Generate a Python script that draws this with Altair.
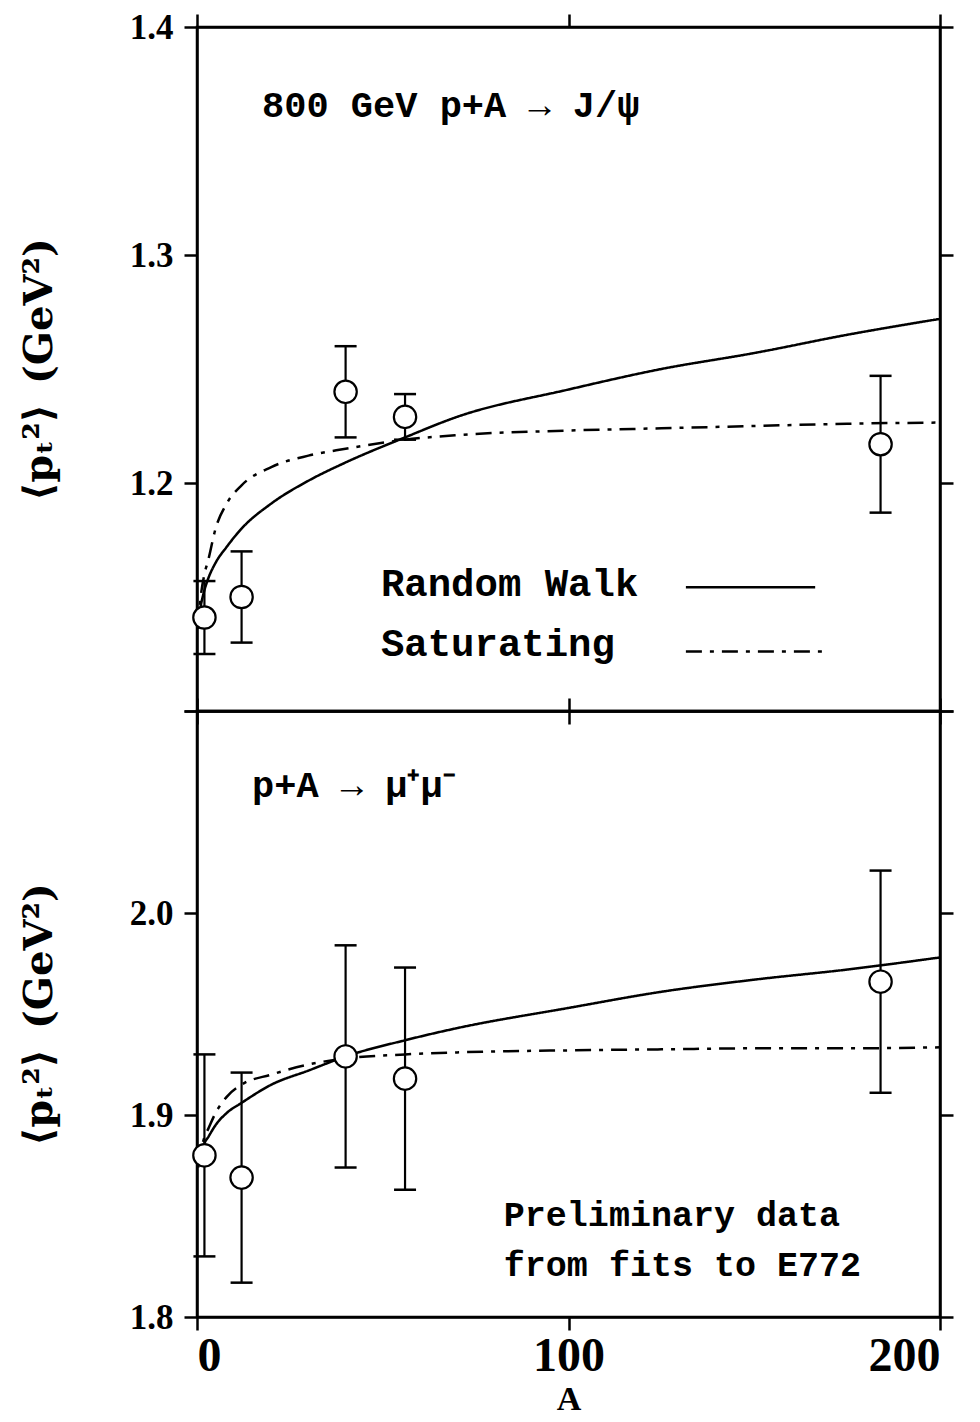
import altair as alt
import pandas as pd

# ---------------- data ----------------
A_pts = [2, 12, 40, 56, 184]
jpsi_pt2 = [1.141, 1.150, 1.240, 1.229, 1.217]
jpsi_err = [0.016, 0.020, 0.020, 0.010, 0.030]
dy_pt2 = [1.880, 1.869, 1.929, 1.918, 1.966]
dy_err = [0.050, 0.052, 0.055, 0.055, 0.055]

A_curve = [0.3, 0.5, 1, 2, 3, 5, 8, 12, 20, 30, 40, 56, 70, 100, 125, 150, 175, 200]
jpsi_rw = [1.138, 1.141, 1.146, 1.153, 1.158, 1.165, 1.172, 1.180, 1.191, 1.201,
           1.209, 1.220, 1.229, 1.241, 1.250, 1.257, 1.265, 1.272]
jpsi_sat = [1.136, 1.141, 1.150, 1.160, 1.166, 1.180, 1.191, 1.199, 1.207, 1.212,
            1.215, 1.219, 1.221, 1.223, 1.224, 1.225, 1.226, 1.2265]
dy_rw = [1.874, 1.876, 1.880, 1.886, 1.889, 1.895, 1.901, 1.906, 1.915, 1.922,
         1.929, 1.937, 1.943, 1.953, 1.961, 1.967, 1.972, 1.978]
dy_sat = [1.875, 1.878, 1.882, 1.889, 1.893, 1.901, 1.909, 1.915, 1.920, 1.925,
          1.928, 1.930, 1.931, 1.932, 1.9325, 1.933, 1.933, 1.9335]

x_ticks = [0, 100, 200]
jpsi_yticks = [1.1, 1.2, 1.3, 1.4]
dy_yticks = [1.8, 1.9, 2.0, 2.1]
models = ["Random Walk", "Saturating"]

# ---------------- layout / style ----------------
W = 743
H_TOP = 684
H_BOT = 606
SERIF = "Liberation Serif"
MONO = "Liberation Mono"
LW = 2.5
DASHDOT = [16, 8, 4, 8]
YTITLE = "\u27e8p\u209c\u00b2\u27e9\u2002(GeV\u00b2)"

xscale = alt.Scale(domain=[0, 200], nice=False, zero=False)


def panel(pt2, err, rw, sat, ydom, yticks, hidden, height, is_bottom, texts, legend):
    yscale = alt.Scale(domain=ydom, nice=False, zero=False)
    pts = pd.DataFrame({
        "A": A_pts,
        "v": pt2,
        "lo": [p - e for p, e in zip(pt2, err)],
        "hi": [p + e for p, e in zip(pt2, err)],
    })
    curves = pd.DataFrame({
        "A": A_curve + A_curve,
        "v": rw + sat,
        "model": [models[0]] * len(A_curve) + [models[1]] * len(A_curve),
    })
    label_expr = "abs(datum.value - %s) < 0.001 ? '' : format(datum.value, '.1f')" % hidden

    common = dict(grid=False, domainColor="black", domainWidth=LW, tickColor="black",
                  tickWidth=LW, tickSize=13, labelColor="black", labelFont=SERIF,
                  titleColor="black")
    if is_bottom:
        xax = alt.Axis(orient="bottom", values=x_ticks, labels=True, labelFontSize=48,
                       labelPadding=2, labelFontWeight="bold", title="A", titleFont=SERIF,
                       titleFontSize=34, titleFontWeight="bold", titlePadding=2, **common)
        xtitle = "A"
    else:
        xax = alt.Axis(orient="bottom", values=x_ticks, labels=False, **common)
        xtitle = None

    yax_left = alt.Axis(orient="left", values=yticks, labelExpr=label_expr,
                        labelFontSize=35, labelFontWeight="bold", labelPadding=11,
                        minExtent=124, maxExtent=124,
                        titlePadding=14, title=YTITLE, titleFont="DejaVu Serif",
                        titleFontSize=40, titleFontWeight="bold", **common)

    dash = alt.StrokeDash("model:N", scale=alt.Scale(domain=models, range=[[1, 0], DASHDOT]),
                          legend=None)

    line_layer = alt.Chart(curves).mark_line(color="black", strokeWidth=LW,
                                             interpolate="monotone").encode(
        x=alt.X("A:Q", scale=xscale, axis=xax, title=xtitle),
        y=alt.Y("v:Q", scale=yscale, axis=yax_left, title=YTITLE),
        strokeDash=dash,
        detail="model:N",
    )

    rules = alt.Chart(pts).mark_rule(color="black", strokeWidth=2.2).encode(
        x=alt.X("A:Q", scale=xscale,
                axis=alt.Axis(orient="top", values=x_ticks, labels=False, **common),
                title=None),
        y=alt.Y("lo:Q", scale=yscale,
                axis=alt.Axis(orient="right", values=yticks, labels=False, **common),
                title=None),
        y2="hi:Q",
    )
    cap_lo = alt.Chart(pts).mark_tick(orient="horizontal", color="black", size=22,
                                      thickness=2.5, opacity=1).encode(
        x=alt.X("A:Q", scale=xscale, axis=None),
        y=alt.Y("lo:Q", scale=yscale, axis=None),
    )
    cap_hi = alt.Chart(pts).mark_tick(orient="horizontal", color="black", size=22,
                                      thickness=2.5, opacity=1).encode(
        x=alt.X("A:Q", scale=xscale, axis=None),
        y=alt.Y("hi:Q", scale=yscale, axis=None),
    )
    circles = alt.Chart(pts).mark_point(shape="circle", filled=True, fill="white",
                                        stroke="black", strokeWidth=2.2, size=500,
                                        opacity=1).encode(
        x=alt.X("A:Q", scale=xscale, axis=None),
        y=alt.Y("v:Q", scale=yscale, axis=None),
    )
    tdf = pd.DataFrame(texts, columns=["A", "v", "label", "size"])
    text_layer = alt.Chart(tdf).mark_text(font=MONO, fontWeight="bold", align="left",
                                          baseline="middle", color="black").encode(
        x=alt.X("A:Q", scale=xscale, axis=None),
        y=alt.Y("v:Q", scale=yscale, axis=None),
        text="label:N",
        size=alt.Size("size:Q", scale=None, legend=None),
    )
    layers = [line_layer, rules, cap_lo, cap_hi, circles, text_layer]
    if legend:
        ldf = pd.DataFrame(legend, columns=["A", "v", "model"])
        leg = alt.Chart(ldf).mark_line(color="black", strokeWidth=LW).encode(
            x=alt.X("A:Q", scale=xscale, axis=None),
            y=alt.Y("v:Q", scale=yscale, axis=None),
            strokeDash=dash,
            detail="model:N",
        )
        layers.append(leg)
    return alt.layer(*layers).resolve_axis(x="independent", y="independent").properties(
        width=W, height=height)


top = panel(
    jpsi_pt2, jpsi_err, jpsi_rw, jpsi_sat, [1.1, 1.4], jpsi_yticks, 1.1, H_TOP, False,
    texts=[
        (17.5, 1.3652, "800 GeV p+A \u2192 J/\u03c8", 37),
        (49.5, 1.1557, "Random Walk", 39),
        (49.5, 1.1296, "Saturating", 39),
    ],
    legend=[
        (131.6, 1.1543, models[0]), (166.4, 1.1543, models[0]),
        (131.6, 1.1261, models[1]), (168.2, 1.1261, models[1]),
    ],
)

bottom = panel(
    dy_pt2, dy_err, dy_rw, dy_sat, [1.8, 2.1], dy_yticks, 2.1, H_BOT, True,
    texts=[
        (14.8, 2.0629, "p+A \u2192 \u03bc\u207a\u03bc\u207b", 37),
        (82.6, 1.8504, "Preliminary data", 35),
        (82.6, 1.8257, "from fits to E772", 35),
    ],
    legend=None,
)

chart = alt.VConcatChart(vconcat=[top, bottom], spacing=0, bounds="flush",
                         background="white",
                         padding={"left": 9, "top": 0, "right": 5, "bottom": 0}).configure_view(
    stroke="black", strokeWidth=LW
)

chart.save("out.html", embed_options={"renderer": "svg", "actions": False})
